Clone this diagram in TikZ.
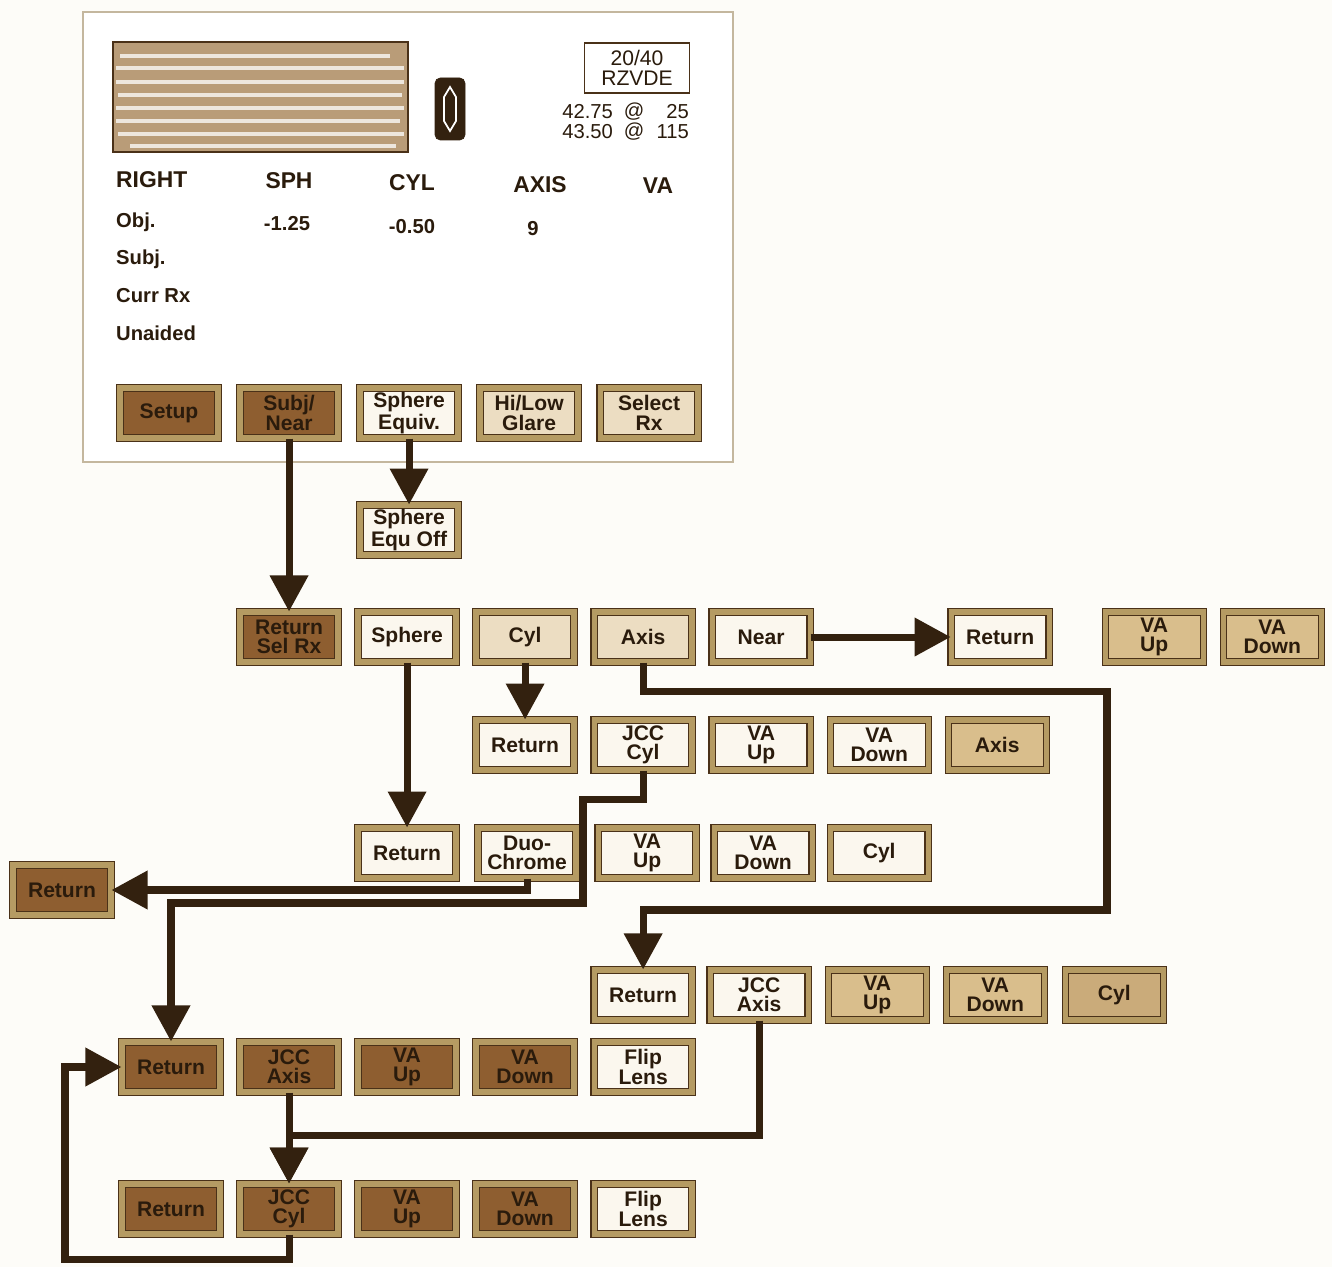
\documentclass[tikz,border=0pt]{standalone}
\usepackage{fontspec}
\setmainfont{Liberation Sans}
\usetikzlibrary{positioning,arrows.meta}
\definecolor{paper}{HTML}{FDFCF8}
\definecolor{btnedge}{HTML}{4A3118}
\definecolor{bevel}{HTML}{B59B63}
\definecolor{litefill}{HTML}{FBF7EE}
\definecolor{tanfill}{HTML}{D9BE8C}
\definecolor{darkfill}{HTML}{8E5E30}
\definecolor{wire}{HTML}{33210F}
\definecolor{ink}{HTML}{2A1B0C}
\definecolor{panelfill}{HTML}{B99C78}
\definecolor{screenedge}{HTML}{C4B79E}

\begin{document}
\begin{tikzpicture}[
    x=0.02cm, y=-0.02cm,
    btn/.style={draw=btnedge, line width=0.6pt, double=bevel, double distance=3pt,
        minimum width=1.96cm, minimum height=1cm, inner sep=1pt, align=center,
        text=ink, font=\bfseries\fontsize{12}{11}\selectfont},
    btnlite/.style={btn, fill=litefill},
    btngrey/.style={btn, fill=litefill!55!tanfill},
    btntan/.style={btn, fill=tanfill},
    btndark/.style={btn, fill=darkfill},
    hdr/.style={text=ink, font=\bfseries\fontsize{13}{13}\selectfont},
    lbl/.style={text=ink, font=\bfseries\fontsize{11.5}{12}\selectfont},
    kval/.style={text=ink, font=\fontsize{11.5}{11}\selectfont, inner sep=1pt},
    flow/.style={draw=wire, line width=4pt, -{Triangle[length=0.72cm, width=0.74cm]}}
]
    \useasboundingbox (0,0) rectangle (1332,1267);
    \fill[paper] (0,0) rectangle (1332,1267);

    % screen
    \draw[screenedge, line width=1.5pt, fill=white] (83,12) rectangle (733,462);
    \draw[btnedge, line width=1pt, fill=panelfill] (113,42) rectangle (408,152);
    \draw[white, line width=2.5pt, opacity=0.75]
        (120,56) -- (390,56) (116,68) -- (404,68) (116,82) -- (404,82)
        (118,95) -- (402,95) (116,108) -- (404,108) (116,121) -- (400,121)
        (118,134) -- (404,134) (130,146) -- (396,146);
    \draw[draw=wire, fill=wire, rounded corners=3pt] (435,78) rectangle (465,140);
    \draw[white, line width=1pt] (444,97) -- (450,87) -- (456,97) -- (456,121) -- (450,131) -- (444,121) -- cycle;

    \node[draw=btnedge, line width=0.8pt, minimum width=2.1cm, minimum height=1cm, align=center,
        text=ink, font=\fontsize{12}{11.3}\selectfont] (acuity) at (637,68) {20/40\\RZVDE};
    \node[kval, anchor=east] (kone) at (615,112) {42.75};
    \node[kval] (koneat) at (634,112) {@};
    \node[kval, anchor=east] (koneax) at (691,112) {25};
    \node[kval, anchor=east] (ktwo) at (615,132) {43.50};
    \node[kval] (ktwoat) at (634,132) {@};
    \node[kval, anchor=east] (ktwoax) at (691,132) {115};

    \node[hdr, anchor=west] (hright) at (110,180) {RIGHT};
    \node[hdr] (hsph) at (289,181) {SPH};
    \node[hdr] (hcyl) at (412,183) {CYL};
    \node[hdr] (haxis) at (540,185) {AXIS};
    \node[hdr] (hva) at (658,186) {VA};

    \node[lbl, anchor=west] (lobj) at (110,222) {Obj.};
    \node[lbl, anchor=west] (lsubj) at (110,259) {Subj.};
    \node[lbl, anchor=west] (lcurr) at (110,296) {Curr Rx};
    \node[lbl, anchor=west] (lunaid) at (110,333) {Unaided};
    \node[lbl] (vsph) at (287,224) {-1.25};
    \node[lbl] (vcyl) at (412,227) {-0.50};
    \node[lbl] (vaxis) at (533,229) {9};

    \node[btndark] (setup) at (169,413) {Setup};
    \node[btndark, right=0.42cm of setup] (subjnear) {Subj/\\Near};
    \node[btnlite, right=0.42cm of subjnear] (sphequiv) {Sphere\\Equiv.};
    \node[btngrey, right=0.42cm of sphequiv] (hilow) {Hi/Low\\Glare};
    \node[btngrey, right=0.42cm of hilow] (selrx) {Select\\Rx};
    \node[btnlite, below=1.32cm of sphequiv] (sphoff) {Sphere\\Equ Off};

    % subjective row
    \node[btndark, below=3.46cm of subjnear] (retsel) {Return\\Sel Rx};
    \node[btnlite, right=0.38cm of retsel] (sphere) {Sphere};
    \node[btngrey, right=0.38cm of sphere] (cyl) {Cyl};
    \node[btngrey, right=0.38cm of cyl] (axis) {Axis};
    \node[btnlite, right=0.38cm of axis] (near) {Near};
    \node[btnlite, right=2.8cm of near] (nearret) {Return};
    \node[btntan, right=1.1cm of nearret] (nearup) {VA\\Up};
    \node[btntan, right=0.38cm of nearup] (neardown) {VA\\Down};

    \node[btnlite, below=1.14cm of cyl] (cylret) {Return};
    \node[btnlite, right=0.38cm of cylret] (cyljcc) {JCC\\Cyl};
    \node[btnlite, right=0.38cm of cyljcc] (cylup) {VA\\Up};
    \node[btnlite, right=0.38cm of cylup] (cyldown) {VA\\Down};
    \node[btntan, right=0.38cm of cyldown] (cylaxis) {Axis};

    \node[btnlite, below=3.3cm of sphere] (sphret) {Return};
    \node[btnlite, right=0.42cm of sphret] (duo) {Duo-\\Chrome};
    \node[btnlite, right=0.42cm of duo] (sphup) {VA\\Up};
    \node[btnlite, right=0.34cm of sphup] (sphdown) {VA\\Down};
    \node[btnlite, right=0.34cm of sphdown] (sphcyl) {Cyl};

    \node[btndark] (duoret) at (62,890) {Return};

    \node[btnlite, below=6.14cm of axis] (axret) {Return};
    \node[btnlite, right=0.34cm of axret] (axjcc) {JCC\\Axis};
    \node[btntan, right=0.38cm of axjcc] (axup) {VA\\Up};
    \node[btntan, right=0.38cm of axup] (axdown) {VA\\Down};
    \node[btntan, fill=tanfill!80!darkfill, right=0.4cm of axdown] (axcyl) {Cyl};

    % jcc rows
    \node[btndark] (jaret) at (171,1067) {Return};
    \node[btndark, right=0.38cm of jaret] (jajcc) {JCC\\Axis};
    \node[btndark, right=0.38cm of jajcc] (jaup) {VA\\Up};
    \node[btndark, right=0.38cm of jaup] (jadown) {VA\\Down};
    \node[btnlite, right=0.38cm of jadown] (jaflip) {Flip\\Lens};

    \node[btndark, below=1.82cm of jaret] (jcret) {Return};
    \node[btndark, right=0.38cm of jcret] (jcjcc) {JCC\\Cyl};
    \node[btndark, right=0.38cm of jcjcc] (jcup) {VA\\Up};
    \node[btndark, right=0.38cm of jcup] (jcdown) {VA\\Down};
    \node[btnlite, right=0.38cm of jcdown] (jcflip) {Flip\\Lens};

    \coordinate (axbend) at (1107,910);
    \coordinate (cylbend) at (583,903);
    \coordinate (loopbend) at (65,1067);

    \draw[flow] (subjnear.south) -- (retsel.north);
    \draw[flow] (sphequiv.south) -- (sphoff.north);
    \draw[flow] (near.east) -- (nearret.west);
    \draw[flow] (cyl.south) -- (cylret.north);
    \draw[flow] (sphere.south) -- (sphret.north);
    \draw[flow] (duo.south) |- (duoret.east);
    \draw[flow] (cyljcc.south) -- ++(0,29) -| (cylbend) -| (jaret.north);
    \draw[flow] (axis.south) -- ++(0,29) -| (axbend) -| (axret.north);
    \draw[flow] (jajcc.south) -- (jcjcc.north);
    \draw[flow] (axjcc.south) -- ++(0,115) -| (jcjcc.north);
    \draw[flow] (jcjcc.south) -- ++(0,25) -| (loopbend) -- (jaret.west);
\end{tikzpicture}
\end{document}
